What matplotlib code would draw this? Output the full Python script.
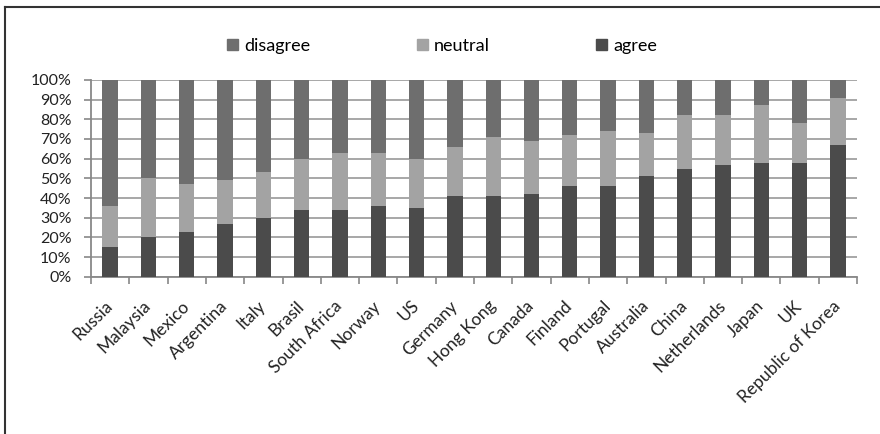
import matplotlib.pyplot as plt
from matplotlib.lines import Line2D
from matplotlib.patches import Patch
import numpy as np

countries = ['Russia', 'Malaysia', 'Mexico', 'Argentina', 'Italy', 'Brasil',
             'South Africa', 'Norway', 'US', 'Germany', 'Hong Kong', 'Canada',
             'Finland', 'Portugal', 'Australia', 'China', 'Netherlands', 'Japan',
             'UK', 'Republic of Korea']
agree = [15, 20, 23, 27, 30, 34, 34, 36, 35, 41, 41, 42, 46, 46, 51, 55, 57, 58, 58, 67]
neutral = [21, 30, 24, 22, 23, 26, 29, 27, 25, 25, 30, 27, 26, 28, 22, 27, 25, 29, 20, 24]
disagree = [64, 50, 53, 51, 47, 40, 37, 37, 40, 34, 29, 31, 28, 26, 27, 18, 18, 13, 22, 9]

c_agree = '#4b4b4b'
c_neutral = '#a3a3a3'
c_disagree = '#6e6e6e'

plt.rcParams['font.family'] = ['Lato', 'DejaVu Sans']

fig = plt.figure(figsize=(8.8, 4.34), dpi=100)
ax = fig.add_axes([0.1034, 0.362, 0.8705, 0.454])

x = np.arange(len(countries))
a = np.array(agree)
n = np.array(neutral)
d = np.array(disagree)
w = 0.4
ax.bar(x, a, w, color=c_agree, zorder=3)
ax.bar(x, n, w, bottom=a, color=c_neutral, zorder=3)
ax.bar(x, d, w, bottom=a + n, color=c_disagree, zorder=3)

ax.set_xlim(-0.5, len(countries) - 0.5)
ax.set_ylim(0, 100)
ax.set_yticks(np.arange(0, 101, 10))
ax.set_yticklabels([f'{v}%' for v in range(0, 101, 10)], fontsize=11.5, color='#222222')
ax.yaxis.grid(True, color='#a0a0a0', linewidth=1.3, zorder=0)

ax.set_xticks(x)
ax.set_xticklabels(countries, rotation=45, ha='right', va='center',
                   rotation_mode='anchor', fontsize=12.5, color='#222222')
ax.tick_params(axis='x', length=0, pad=19)
ax.set_xticks(np.arange(-0.5, len(countries), 1), minor=True)
ax.tick_params(axis='x', which='minor', length=5, width=1.2, color='#888888')
ax.tick_params(axis='y', length=5, width=1.2, color='#888888', pad=9)

for s in ['top', 'right']:
    ax.spines[s].set_visible(False)
for s in ['left', 'bottom']:
    ax.spines[s].set_color('#888888')
    ax.spines[s].set_linewidth(1.3)

handles = [Patch(color=c_disagree), Patch(color=c_neutral), Patch(color=c_agree)]
fig.legend(handles, ['disagree', 'neutral', 'agree'], ncol=3, loc='center',
           bbox_to_anchor=(0.5025, 0.894), frameon=False, fontsize=13,
           handlelength=0.6, handleheight=0.6, handletextpad=0.35,
           columnspacing=5.9)

# outer frame on left and top
fig.add_artist(Line2D([0.006, 0.006], [0, 0.985], color='#333333', linewidth=1.5))
fig.add_artist(Line2D([0.006, 1], [0.985, 0.985], color='#333333', linewidth=1.5))

fig.savefig('out.png', dpi=100)
